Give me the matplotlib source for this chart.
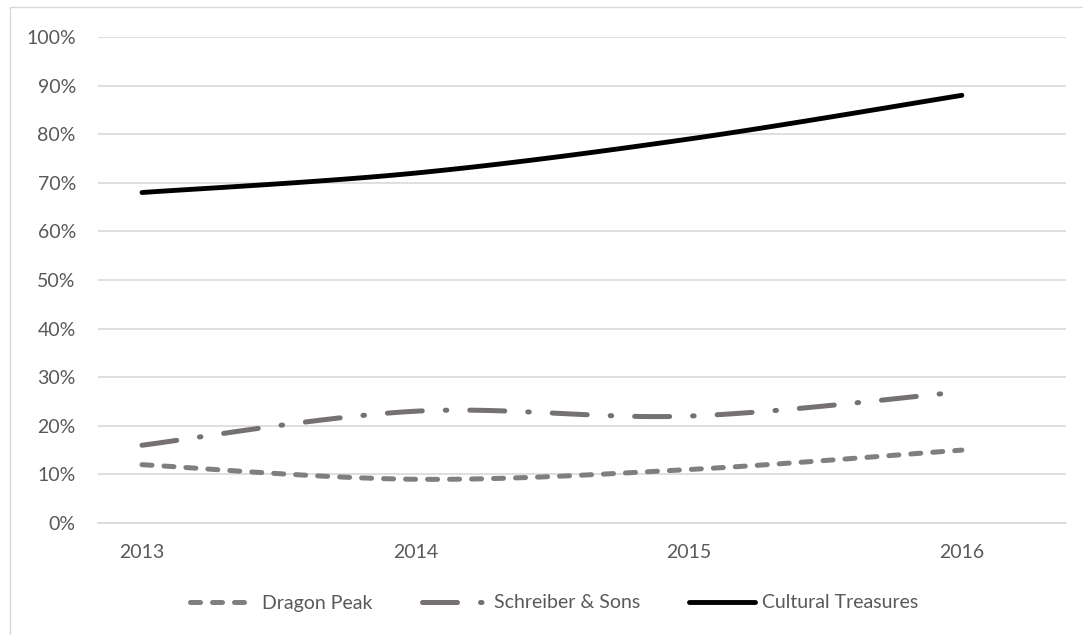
import numpy as np
import matplotlib
matplotlib.use("Agg")
import matplotlib.pyplot as plt
from matplotlib.ticker import FuncFormatter, MultipleLocator
from matplotlib.patches import Rectangle

years = ["2013", "2014", "2015", "2016"]
dragon_peak = [12, 9, 11, 15]
schreiber = [16, 23, 22, 27]
cultural = [68, 72, 79, 88]

plt.rcParams['font.family'] = ['Lato', 'DejaVu Sans']

def smooth(xs, ys, n=40):
    # Bezier smoothing similar to spreadsheet "smoothed line"
    xs = np.asarray(xs, float); ys = np.asarray(ys, float)
    P = np.column_stack([xs, ys])
    P = np.vstack([P[0], P, P[-1]])
    out = []
    for i in range(1, len(P) - 2):
        p0, p1, p2, p3 = P[i-1], P[i], P[i+1], P[i+2]
        c1 = p1 + (p2 - p0) / 6.0
        c2 = p2 - (p3 - p1) / 6.0
        t = np.linspace(0, 1, n)[:, None]
        seg = (1-t)**3*p1 + 3*(1-t)**2*t*c1 + 3*(1-t)*t**2*c2 + t**3*p2
        out.append(seg if i == 1 else seg[1:])
    out = np.vstack(out)
    return out[:, 0], out[:, 1]

W, H = 1083, 635
fig = plt.figure(figsize=(W/100, H/100), dpi=100)
fig.patches.append(Rectangle((10/W, -10/H), 1090/W, (635-7+10)/H, transform=fig.transFigure,
                             fill=False, edgecolor='#d9d9d9', linewidth=1))
ax = fig.add_axes([98/W, 1-523/H, (1066-98)/W, (523-37)/H])

x = np.arange(len(years))
gray = '#7f7f7f'
dgray = '#767171'
lw = 3.6

xs, ys = smooth(x, dragon_peak)
ax.plot(xs, ys, color=gray, lw=lw, linestyle=(0, (2.0, 2.4)), dash_capstyle='round',
        solid_capstyle='round', label='Dragon Peak', zorder=3)
xs, ys = smooth(x, schreiber)
ax.plot(xs, ys, color=dgray, lw=lw, linestyle=(0, (7, 4.6, 0.3, 4.6)), dash_capstyle='round',
        label='Schreiber & Sons', zorder=3)
xs, ys = smooth(x, cultural)
ax.plot(xs, ys, color='black', lw=3.5, solid_capstyle='round', label='Cultural Treasures', zorder=3)

ax.set_xlim(-0.161, 3.381)
ax.set_ylim(0, 100)
ax.yaxis.set_major_locator(MultipleLocator(10))
ax.yaxis.set_major_formatter(FuncFormatter(lambda v, p: f"{int(round(v))}%"))
ax.set_xticks(x)
ax.set_xticklabels(years)
ax.grid(axis='y', color='#d9d9d9', linewidth=1.2)
ax.set_axisbelow(True)
for s in ['top', 'right', 'left']:
    ax.spines[s].set_visible(False)
ax.spines['bottom'].set_color('#d9d9d9')
ax.spines['bottom'].set_linewidth(1.2)
ax.tick_params(axis='both', length=0, labelsize=14, colors='#595959')
ax.tick_params(axis='y', pad=16)
ax.tick_params(axis='x', pad=15)

leg = fig.legend(loc='center', bbox_to_anchor=(554/W, 1-603/H), ncol=3, frameon=False,
                 fontsize=14, handlelength=3.4, handletextpad=0.35, columnspacing=2.5)
for t in leg.get_texts():
    t.set_color('#595959')

fig.savefig('out.png', dpi=100)
